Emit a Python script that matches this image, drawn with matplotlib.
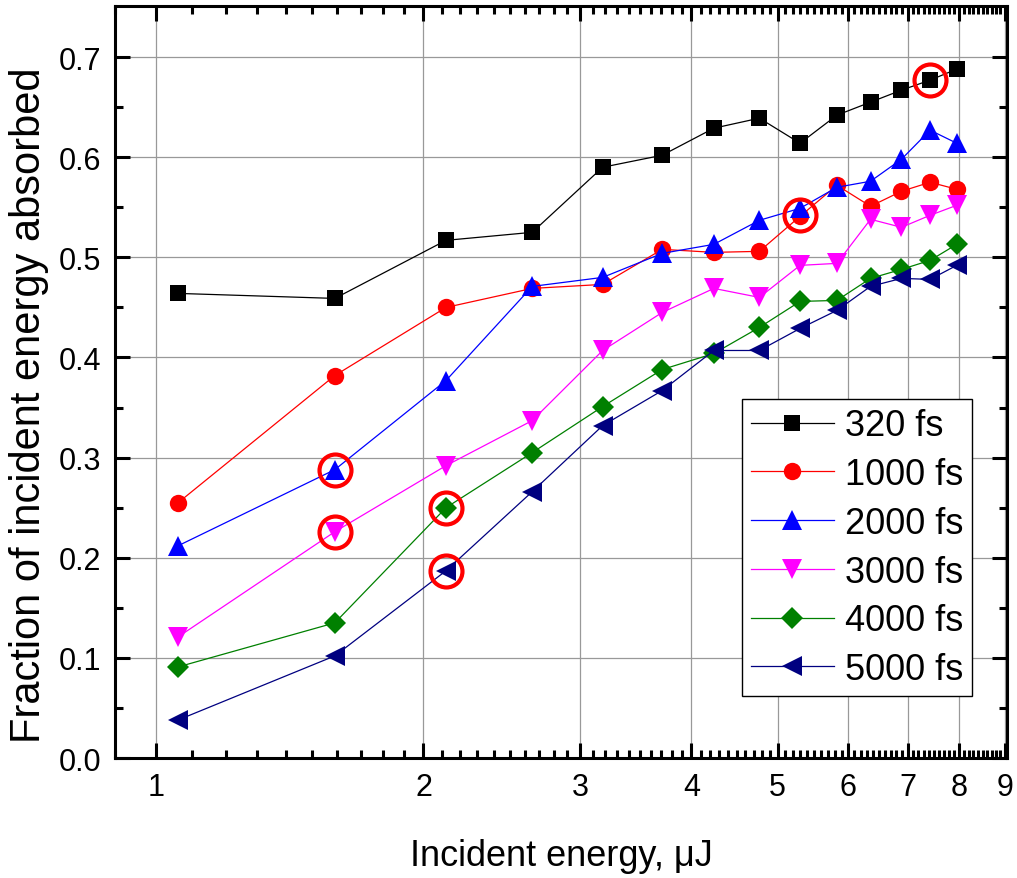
import matplotlib
matplotlib.use('Agg')
import matplotlib.pyplot as plt
from matplotlib.ticker import FixedLocator, NullFormatter
import numpy as np

plt.rcParams['font.family'] = ['Liberation Sans', 'DejaVu Sans']

energy = [1.06, 1.59, 2.12, 2.65, 3.18, 3.71, 4.24, 4.77, 5.30, 5.83, 6.36, 6.89, 7.42, 7.95]

fs320 = [0.464, 0.459, 0.517, 0.525, 0.590, 0.602, 0.629, 0.639, 0.614, 0.642, 0.655, 0.667, 0.677, 0.688]
fs1000 = [0.255, 0.382, 0.450, 0.469, 0.473, 0.508, 0.505, 0.506, 0.541, 0.572, 0.551, 0.566, 0.575, 0.568]
fs2000 = [0.212, 0.288, 0.377, 0.471, 0.480, 0.504, 0.513, 0.537, 0.549, 0.570, 0.576, 0.598, 0.627, 0.614]
fs3000 = [0.121, 0.226, 0.292, 0.337, 0.407, 0.445, 0.469, 0.460, 0.492, 0.494, 0.538, 0.530, 0.542, 0.552]
fs4000 = [0.091, 0.135, 0.250, 0.305, 0.351, 0.388, 0.404, 0.430, 0.456, 0.457, 0.479, 0.488, 0.497, 0.513]
fs5000 = [0.038, 0.102, 0.187, 0.266, 0.332, 0.367, 0.407, 0.407, 0.429, 0.447, 0.471, 0.479, 0.478, 0.492]

labels = ['320 fs', '1000 fs', '2000 fs', '3000 fs', '4000 fs', '5000 fs']

# circled points
circ_x = [1.59, 1.59, 2.12, 2.12, 5.30, 7.42]
circ_y = [0.288, 0.226, 0.250, 0.187, 0.5425, 0.677]

fig = plt.figure(figsize=(10.17, 8.79), dpi=100)
ax = fig.add_axes([0.113, 0.1365, 0.877, 0.8555])

series = [fs320, fs1000, fs2000, fs3000, fs4000, fs5000]
colors = ['black', '#ff0000', '#0000ff', '#ff00ff', '#008000', '#000080']
markers = ['s', 'o', '^', 'v', 'D', '<']
msizes = [12, 12.5, 14.5, 14.5, 11, 14.5]

for ys, c, m, ms, lab in zip(series, colors, markers, msizes, labels):
    ax.plot(energy, ys, color=c, marker=m, markersize=ms, linewidth=0.9,
            markeredgewidth=0, label=lab, zorder=3)

ax.plot(circ_x, circ_y, linestyle='none', marker='o', markersize=23,
        markerfacecolor='none', markeredgecolor='#ff0000', markeredgewidth=3, zorder=4)

ax.set_xscale('log')
ax.set_xlim(0.9, 9.05)
ax.set_ylim(0, 0.751)

major_x = [1, 2, 3, 4, 5, 6, 7, 8, 9]
ax.xaxis.set_major_locator(FixedLocator(major_x))
ax.set_xticklabels([str(v) for v in major_x])
minor_x = [round(v, 1) for v in np.arange(0.9, 9.05, 0.1) if abs(v - round(v)) > 0.01]
ax.xaxis.set_minor_locator(FixedLocator(minor_x))
ax.xaxis.set_minor_formatter(NullFormatter())

ax.set_yticks([0.0, 0.1, 0.2, 0.3, 0.4, 0.5, 0.6, 0.7])
ax.set_yticklabels(['0.0', '0.1', '0.2', '0.3', '0.4', '0.5', '0.6', '0.7'])
ax.set_yticks([0.05, 0.15, 0.25, 0.35, 0.45, 0.55, 0.65], minor=True)

ax.tick_params(which='both', direction='in', top=True, right=True, width=2.2, labelsize=22)
ax.tick_params(which='major', length=11, pad=10)
ax.tick_params(which='minor', length=6)

for sp in ax.spines.values():
    sp.set_linewidth(2.2)

ax.grid(True, which='major', color='#999999', linewidth=0.9)
ax.set_axisbelow(True)

ax.set_xlabel('Incident energy, μJ', fontsize=26, labelpad=26)
ax.set_ylabel('Fraction of incident energy absorbed', fontsize=30)
ax.yaxis.set_label_coords(-0.074, 0.47)

leg = ax.legend(loc='lower right', bbox_to_anchor=(0.961, 0.0824), borderaxespad=0,
                fontsize=26, fancybox=False, framealpha=1, edgecolor='black',
                handlelength=2.3, handletextpad=0.3, labelspacing=0.38,
                borderpad=0.25)
leg.get_frame().set_linewidth(1.0)

fig.savefig('out.png', dpi=100)
